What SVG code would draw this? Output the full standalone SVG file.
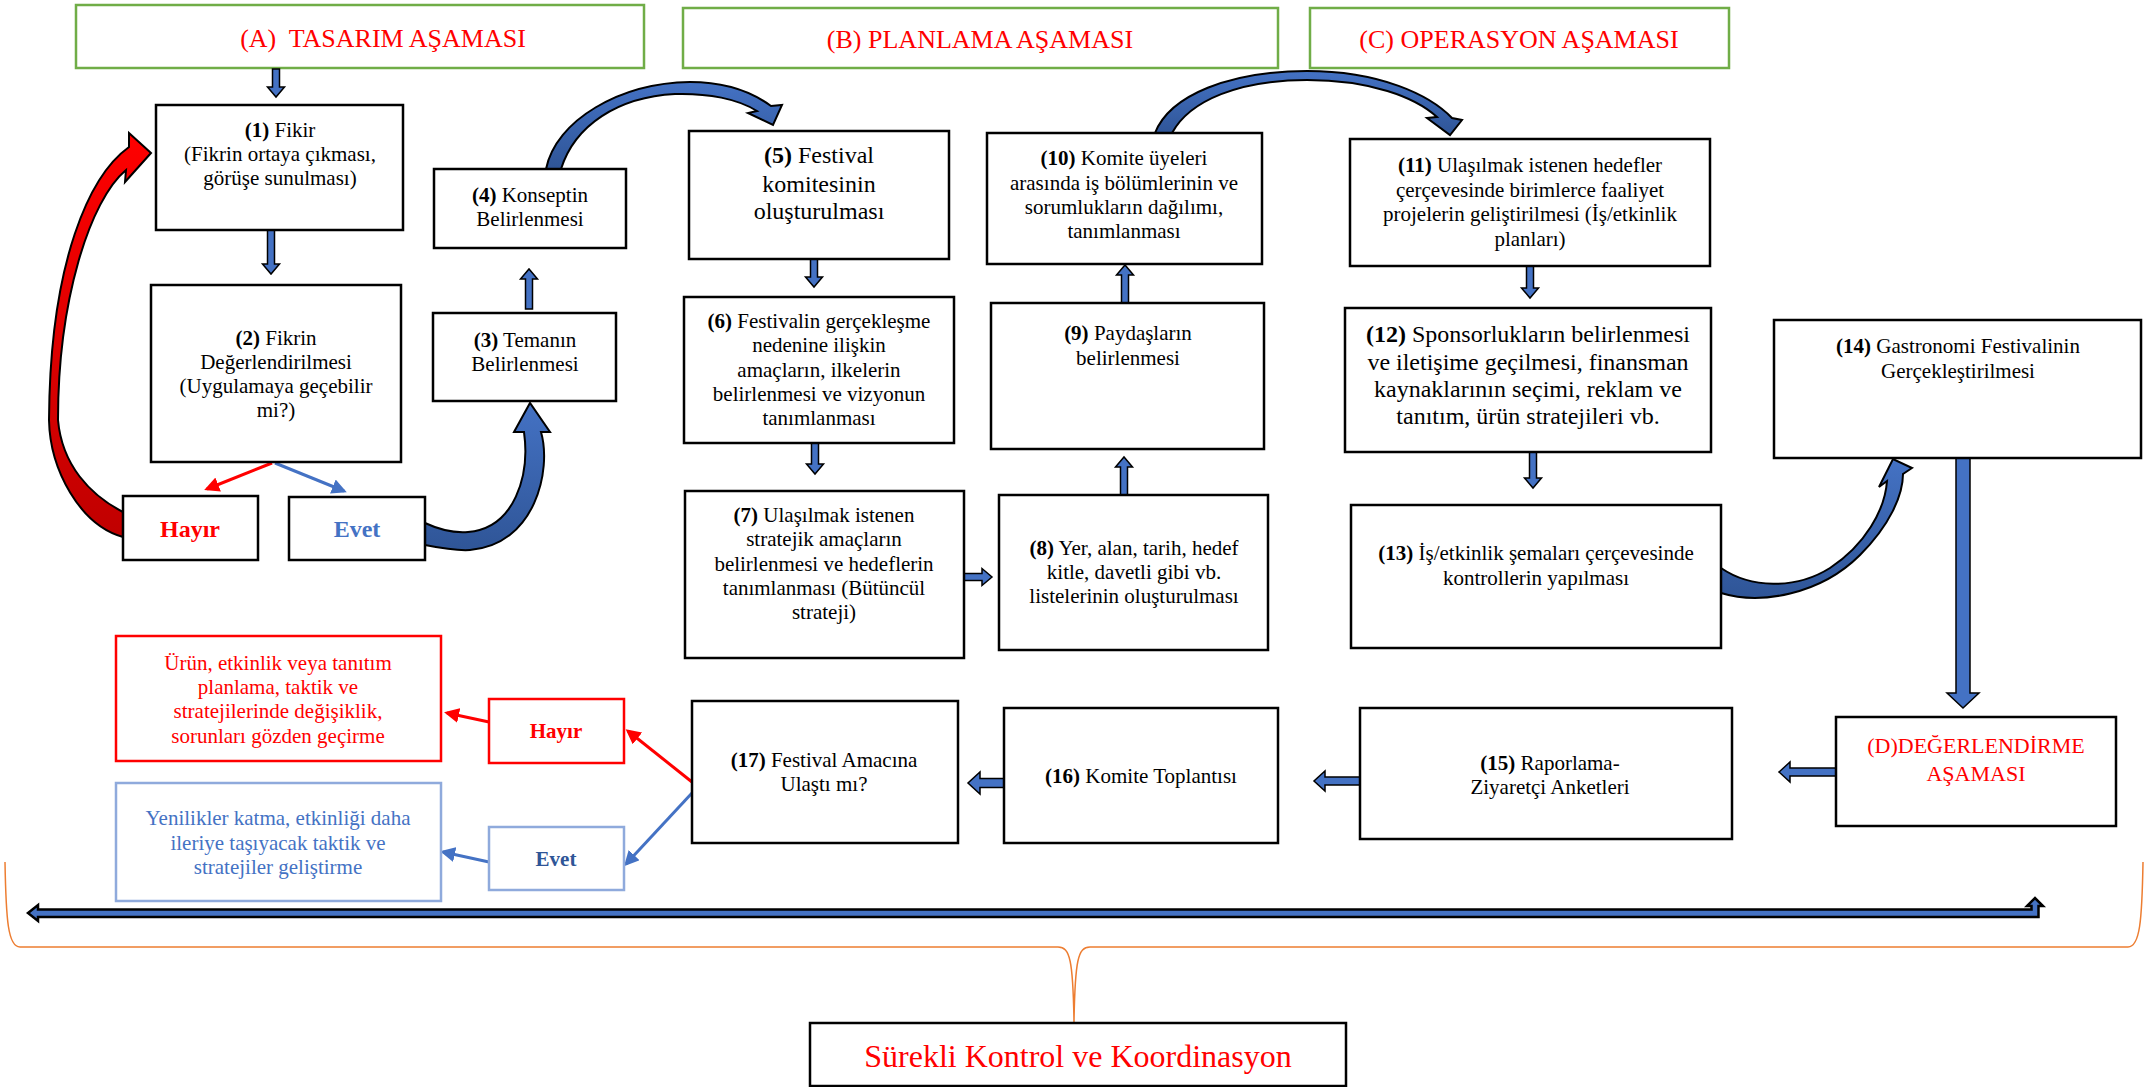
<svg xmlns="http://www.w3.org/2000/svg" width="2149" height="1087" viewBox="0 0 2149 1087">
<style>
.n{fill:#fff;stroke:#000;stroke-width:2.5}
.h{fill:#fff;stroke:#70AD47;stroke-width:2.5}
.rb{fill:#fff;stroke:#FF0000;stroke-width:2.5}
.lb{fill:#fff;stroke:#8FAADC;stroke-width:2.5}
text{font-family:"Liberation Serif","Times New Roman",serif;font-size:21px;fill:#000;text-anchor:middle}
.b{font-weight:bold}
.big{font-size:24px}
.ht{font-size:26px;fill:#FF0000}
.red{fill:#FF0000}
.blu{fill:#4472C4}
.ba{fill:#4472C4;stroke:#000;stroke-width:1.5}
.cv{fill:url(#gb);stroke:#000;stroke-width:2}
.lr{stroke:#FF0000;stroke-width:3;fill:none;marker-end:url(#ahR)}
.lbl{stroke:#4472C4;stroke-width:3;fill:none;marker-end:url(#ahB)}
</style>
<defs>
<linearGradient id="gb" x1="0" y1="0" x2="0" y2="1"><stop offset="0" stop-color="#4472C4"/><stop offset="1" stop-color="#2F5597"/></linearGradient>
<linearGradient id="gr" x1="0" y1="0" x2="0" y2="1"><stop offset="0" stop-color="#FF0000"/><stop offset="1" stop-color="#C00000"/></linearGradient>
<marker id="ahR" viewBox="0 0 10 10" refX="8" refY="5" markerWidth="5" markerHeight="5" orient="auto"><path d="M0,0 L10,5 L0,10 z" fill="#FF0000"/></marker>
<marker id="ahB" viewBox="0 0 10 10" refX="8" refY="5" markerWidth="5" markerHeight="5" orient="auto"><path d="M0,0 L10,5 L0,10 z" fill="#4472C4"/></marker>
</defs>
<rect width="2149" height="1087" fill="#fff"/>

<g id="headerA"><rect class="h" x="76" y="5" width="568" height="63"/><text class="ht" x="383" y="47">(A)&#160; TASARIM AŞAMASI</text></g>
<g id="headerB"><rect class="h" x="683" y="8" width="595" height="60"/><text class="ht" x="980" y="48">(B) PLANLAMA AŞAMASI</text></g>
<g id="headerC"><rect class="h" x="1310" y="8" width="419" height="60"/><text class="ht" x="1519" y="48">(C) OPERASYON AŞAMASI</text></g>

<g id="connectors">
<path class="ba" d="M272.5,69 L279.5,69 L279.5,87 L284.5,87 L276,97 L267.5,87 L272.5,87 Z"/>
<path class="ba" d="M267.5,230 L274.5,230 L274.5,264 L279.5,264 L271,274 L262.5,264 L267.5,264 Z"/>
<path class="ba" d="M525.5,309 L532.5,309 L532.5,279 L537.5,279 L529,269 L520.5,279 L525.5,279 Z"/>
<path class="ba" d="M810.5,259 L817.5,259 L817.5,277 L822.5,277 L814,287 L805.5,277 L810.5,277 Z"/>
<path class="ba" d="M811.5,443 L818.5,443 L818.5,464 L823.5,464 L815,474 L806.5,464 L811.5,464 Z"/>
<path class="ba" d="M964,573.5 L982,573.5 L982,568.5 L992,577 L982,585.5 L982,580.5 L964,580.5 Z"/>
<path class="ba" d="M1120.5,495 L1127.5,495 L1127.5,467 L1132.5,467 L1124,457 L1115.5,467 L1120.5,467 Z"/>
<path class="ba" d="M1121.5,303 L1128.5,303 L1128.5,275 L1133.5,275 L1125,265 L1116.5,275 L1121.5,275 Z"/>
<path class="ba" d="M1526.5,266 L1533.5,266 L1533.5,288 L1538.5,288 L1530,298 L1521.5,288 L1526.5,288 Z"/>
<path class="ba" d="M1529.5,452 L1536.5,452 L1536.5,478 L1541.5,478 L1533,488 L1524.5,478 L1529.5,478 Z"/>
<path class="ba" d="M1956,458 L1970,458 L1970,693 L1979,693 L1963,708 L1947,693 L1956,693 Z"/>
<path class="ba" d="M1836,768 L1790,768 L1790,762 L1779,772 L1790,782 L1790,776 L1836,776 Z"/>
<path class="ba" d="M1360,777 L1325,777 L1325,771 L1314,781 L1325,791 L1325,785 L1360,785 Z"/>
<path class="ba" d="M1004,778.5 L980,778.5 L980,772 L968,783 L980,794 L980,787.5 L1004,787.5 Z"/>
<path fill="url(#gr)" stroke="#000" stroke-width="2" d="M151,153 L129,133 L129,147 C90,175 50,260 49,420 C50,470 80,525 123,537 L123,512 C90,495 62,465 58,420 C58,300 90,200 126,170 L125,182 Z"/>
<path class="cv" d="M425,545 C440,548 455,551 470,550 C535,545 552,470 541,432 L550,432 L530,403 L514,432 L524,432 C530,475 515,528 468,532 C455,533 440,530 425,523 Z"/>
<path class="cv" d="M546,169 C556,120 620,83 690,82 C725,82 752,92 771,106 L782,105 L773,125 L748,113 L757,111 C738,99 708,93 675,94 C618,97 575,125 561,169 Z"/>
<path class="cv" d="M1155,133 C1170,95 1230,71 1307,71 C1380,71 1430,95 1452,118 L1462,120 L1450,135 L1427,118 L1437,117 C1415,97 1370,80 1307,80 C1240,80 1190,100 1172,133 Z"/>
<path class="cv" d="M1721,593 C1760,605 1820,595 1860,555 C1890,525 1903,495 1903,474 L1912,468 L1893,459 L1879,487 L1887,481 C1885,510 1865,545 1830,568 C1795,590 1750,588 1721,568 Z"/>
<line class="lr" x1="272" y1="463" x2="207" y2="489"/>
<line class="lbl" x1="275" y1="463" x2="344" y2="491"/>
<line class="lr" x1="692" y1="782" x2="628" y2="731"/>
<line class="lbl" x1="692" y1="793" x2="626" y2="864"/>
<line class="lr" x1="489" y1="722" x2="447" y2="713"/>
<line class="lbl" x1="489" y1="862" x2="443" y2="852"/>
<path fill="#4472C4" stroke="#000" stroke-width="2.5" d="M28,913 L38,905 L38,909.5 L2031.5,909.5 L2031.5,906 L2027,906 L2035,898 L2043,906 L2038.5,906 L2038.5,917 L38,917 L38,921 Z"/>
<path fill="none" stroke="#ED7D31" stroke-width="1.5" d="M5,862 C6,920 8,947 20,947 L1058,947 C1070,947 1073,960 1074,1022 C1075,960 1078,947 1090,947 L2128,947 C2140,947 2142,920 2143,862"/>
</g>

<g id="n1"><rect class="n" x="156" y="105" width="247" height="125"/><text x="280" y="137"><tspan class="b">(1)</tspan> Fikir</text><text x="280" y="161">(Fikrin ortaya çıkması,</text><text x="280" y="185">görüşe sunulması)</text></g>
<g id="n2"><rect class="n" x="151" y="285" width="250" height="177"/><text x="276" y="345"><tspan class="b">(2)</tspan> Fikrin</text><text x="276" y="369">Değerlendirilmesi</text><text x="276" y="393">(Uygulamaya geçebilir</text><text x="276" y="417">mi?)</text></g>
<g id="hayir1"><rect class="n" x="123" y="496" width="135" height="64"/><text class="b red" style="font-size:24px" x="190" y="537">Hayır</text></g>
<g id="evet1"><rect class="n" x="289" y="497" width="136" height="63"/><text class="b blu" style="font-size:24px" x="357" y="537">Evet</text></g>
<g id="n3"><rect class="n" x="433" y="313" width="183" height="88"/><text x="525" y="347"><tspan class="b">(3)</tspan> Temanın</text><text x="525" y="371">Belirlenmesi</text></g>
<g id="n4"><rect class="n" x="434" y="169" width="192" height="79"/><text x="530" y="202"><tspan class="b">(4)</tspan> Konseptin</text><text x="530" y="226">Belirlenmesi</text></g>
<g id="n5"><rect class="n" x="689" y="131" width="260" height="128"/><text class="big" x="819" y="163"><tspan class="b">(5)</tspan> Festival</text><text class="big" x="819" y="192">komitesinin</text><text class="big" x="819" y="219">oluşturulması</text></g>
<g id="n6"><rect class="n" x="684" y="297" width="270" height="146"/><text x="819" y="328"><tspan class="b">(6)</tspan> Festivalin gerçekleşme</text><text x="819" y="352">nedenine ilişkin</text><text x="819" y="377">amaçların, ilkelerin</text><text x="819" y="401">belirlenmesi ve vizyonun</text><text x="819" y="425">tanımlanması</text></g>
<g id="n7"><rect class="n" x="685" y="491" width="279" height="167"/><text x="824" y="522"><tspan class="b">(7)</tspan> Ulaşılmak istenen</text><text x="824" y="546">stratejik amaçların</text><text x="824" y="571">belirlenmesi ve hedeflerin</text><text x="824" y="595">tanımlanması (Bütüncül</text><text x="824" y="619">strateji)</text></g>
<g id="n8"><rect class="n" x="999" y="495" width="269" height="155"/><text x="1134" y="555"><tspan class="b">(8)</tspan> Yer, alan, tarih, hedef</text><text x="1134" y="579">kitle, davetli gibi vb.</text><text x="1134" y="603">listelerinin oluşturulması</text></g>
<g id="n9"><rect class="n" x="991" y="303" width="273" height="146"/><text x="1128" y="340"><tspan class="b">(9)</tspan> Paydaşların</text><text x="1128" y="365">belirlenmesi</text></g>
<g id="n10"><rect class="n" x="987" y="133" width="275" height="131"/><text x="1124" y="165"><tspan class="b">(10)</tspan> Komite üyeleri</text><text x="1124" y="190">arasında iş bölümlerinin ve</text><text x="1124" y="214">sorumlukların dağılımı,</text><text x="1124" y="238">tanımlanması</text></g>
<g id="n11"><rect class="n" x="1350" y="139" width="360" height="127"/><text x="1530" y="172"><tspan class="b">(11)</tspan> Ulaşılmak istenen hedefler</text><text x="1530" y="197">çerçevesinde birimlerce faaliyet</text><text x="1530" y="221">projelerin geliştirilmesi (İş/etkinlik</text><text x="1530" y="246">planları)</text></g>
<g id="n12"><rect class="n" x="1345" y="308" width="366" height="144"/><text class="big" x="1528" y="342"><tspan class="b">(12)</tspan> Sponsorlukların belirlenmesi</text><text class="big" x="1528" y="370">ve iletişime geçilmesi, finansman</text><text class="big" x="1528" y="397">kaynaklarının seçimi, reklam ve</text><text class="big" x="1528" y="424">tanıtım, ürün stratejileri vb.</text></g>
<g id="n13"><rect class="n" x="1351" y="505" width="370" height="143"/><text x="1536" y="560"><tspan class="b">(13)</tspan> İş/etkinlik şemaları çerçevesinde</text><text x="1536" y="585">kontrollerin yapılması</text></g>
<g id="n14"><rect class="n" x="1774" y="320" width="367" height="138"/><text x="1958" y="353"><tspan class="b">(14)</tspan> Gastronomi Festivalinin</text><text x="1958" y="378">Gerçekleştirilmesi</text></g>
<g id="nD"><rect class="n" x="1836" y="717" width="280" height="109"/><text class="red" style="font-size:22px" x="1976" y="753">(D)DEĞERLENDİRME</text><text class="red" style="font-size:22px" x="1976" y="781">AŞAMASI</text></g>
<g id="n15"><rect class="n" x="1360" y="708" width="372" height="131"/><text x="1550" y="770"><tspan class="b">(15)</tspan> Raporlama-</text><text x="1550" y="794">Ziyaretçi Anketleri</text></g>
<g id="n16"><rect class="n" x="1004" y="708" width="274" height="135"/><text x="1141" y="783"><tspan class="b">(16)</tspan> Komite Toplantısı</text></g>
<g id="n17"><rect class="n" x="692" y="701" width="266" height="142"/><text x="824" y="767"><tspan class="b">(17)</tspan> Festival Amacına</text><text x="824" y="791">Ulaştı mı?</text></g>
<g id="hayir2"><rect class="rb" x="489" y="699" width="135" height="64"/><text class="b red" x="556" y="738">Hayır</text></g>
<g id="evet2"><rect class="lb" x="489" y="827" width="135" height="63"/><text class="b" style="fill:#2F5597" x="556" y="866">Evet</text></g>
<g id="redbox"><rect class="rb" x="116" y="636" width="325" height="125"/><text class="red" x="278" y="670">Ürün, etkinlik veya tanıtım</text><text class="red" x="278" y="694">planlama, taktik ve</text><text class="red" x="278" y="718">stratejilerinde değişiklik,</text><text class="red" x="278" y="743">sorunları gözden geçirme</text></g>
<g id="bluebox"><rect class="lb" x="116" y="783" width="325" height="118"/><text class="blu" x="278" y="825">Yenilikler katma, etkinliği daha</text><text class="blu" x="278" y="850">ileriye taşıyacak taktik ve</text><text class="blu" x="278" y="874">stratejiler geliştirme</text></g>
<g id="surekli"><rect class="n" x="810" y="1023" width="536" height="63"/><text class="red" style="font-size:32px" x="1078" y="1067">Sürekli Kontrol ve Koordinasyon</text></g>
</svg>
